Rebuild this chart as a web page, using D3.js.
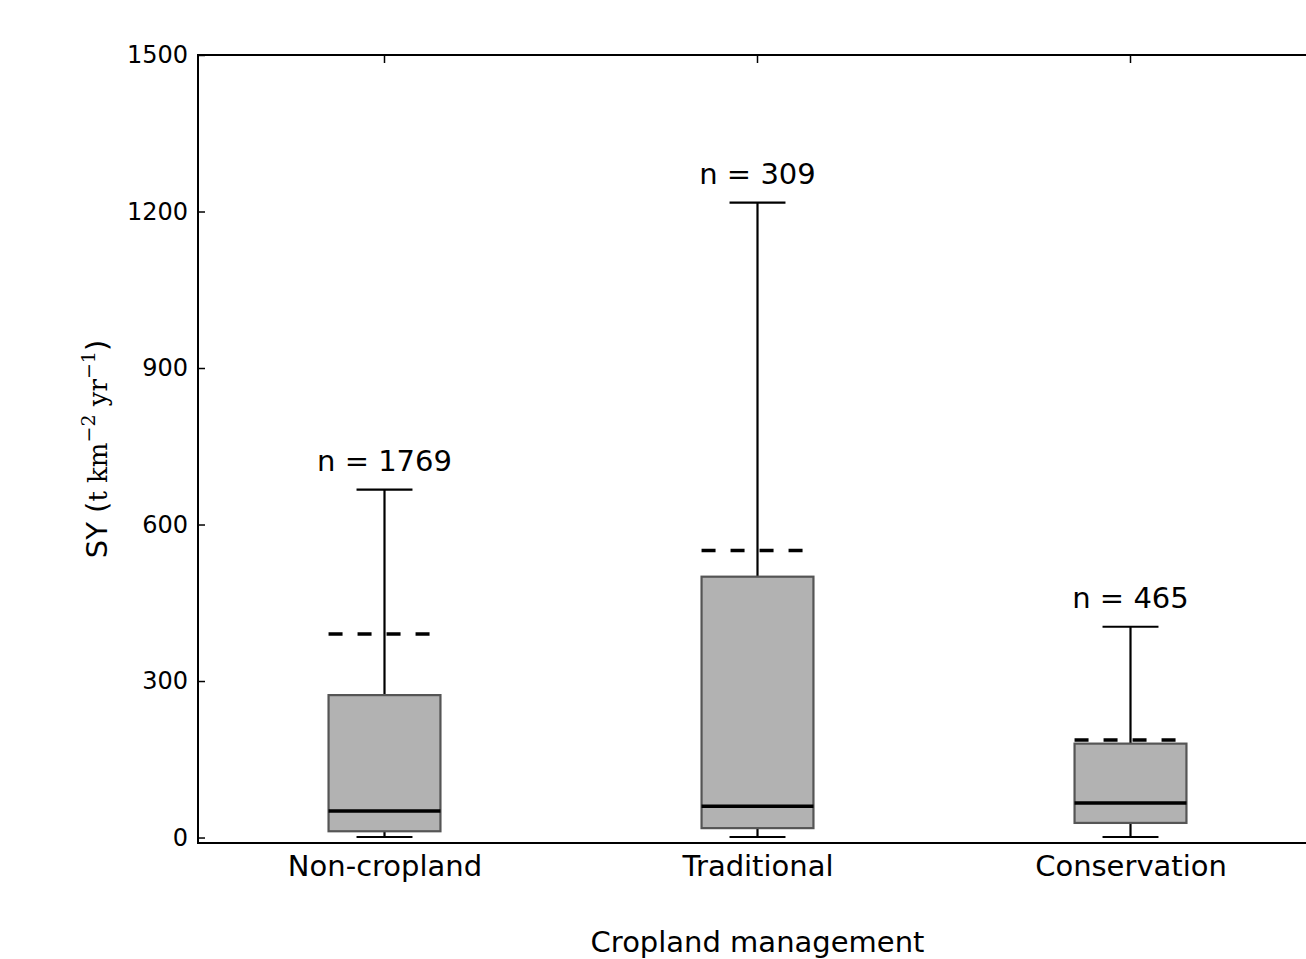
<!DOCTYPE html>
<html><head><meta charset="utf-8">
<script src="https://cdn.jsdelivr.net/npm/d3@7"></script>
<style>body{margin:0;background:#fff}svg{display:block}text{font-family:"DejaVu Sans",sans-serif}</style>
</head><body>
<svg id="c" width="1306" height="959"></svg>
<script>
const categories = ["Non-cropland", "Traditional", "Conservation"];
const counts = [1769, 309, 465];
const whiskerLow = [1, 1, 1];
const q1 = [12, 18, 28];
const median = [51, 60, 66];
const q3 = [273, 500, 180];
const whiskerHigh = [667, 1217, 404];
const means = [390, 550, 187];
const yTicks = [0, 300, 600, 900, 1200, 1500];

const svg = d3.select("#c");
const L = 198, R = 1317, T = 55, B = 843;
const x = d3.scaleLinear().domain([0.5, 3.5]).range([L, R]);
const y = d3.scaleLinear().domain([-10.5, 1500]).range([B, T]);
const step = x(2) - x(1);
const bw = step * 0.3, cw = bw / 2;

const g = svg.append("g");
categories.forEach((c, i) => {
  const cx = x(i + 1);
  g.append("line").attr("x1", cx).attr("x2", cx).attr("y1", y(q3[i])).attr("y2", y(whiskerHigh[i])).attr("stroke", "#000").attr("stroke-width", 2.2);
  g.append("line").attr("x1", cx).attr("x2", cx).attr("y1", y(q1[i])).attr("y2", y(whiskerLow[i])).attr("stroke", "#000").attr("stroke-width", 2.2);
  g.append("line").attr("x1", cx - cw / 2).attr("x2", cx + cw / 2).attr("y1", y(whiskerHigh[i])).attr("y2", y(whiskerHigh[i])).attr("stroke", "#000").attr("stroke-width", 2.2);
  g.append("line").attr("x1", cx - cw / 2).attr("x2", cx + cw / 2).attr("y1", y(whiskerLow[i])).attr("y2", y(whiskerLow[i])).attr("stroke", "#000").attr("stroke-width", 2.2);
  g.append("rect").attr("x", cx - bw / 2).attr("y", y(q3[i])).attr("width", bw).attr("height", y(q1[i]) - y(q3[i]))
    .attr("fill", "#b2b2b2").attr("stroke", "#555").attr("stroke-width", 2.2);
  g.append("line").attr("x1", cx - bw / 2).attr("x2", cx + bw / 2).attr("y1", y(median[i])).attr("y2", y(median[i])).attr("stroke", "#000").attr("stroke-width", 3.5);
  g.append("line").attr("x1", cx - bw / 2).attr("x2", cx + bw / 2).attr("y1", y(means[i])).attr("y2", y(means[i])).attr("stroke", "#000").attr("stroke-width", 3.5).attr("stroke-dasharray", "14,15");
  g.append("text").attr("x", cx).attr("y", y(whiskerHigh[i]) - 19).attr("text-anchor", "middle").attr("font-size", 29).text("n = " + counts[i]);
});

svg.append("rect").attr("x", L).attr("y", T).attr("width", R - L).attr("height", B - T).attr("fill", "none").attr("stroke", "#000").attr("stroke-width", 2);

const ya = svg.append("g").attr("transform", `translate(${L},0)`)
  .call(d3.axisLeft(y).tickValues(yTicks).tickSize(-7).tickPadding(10).tickFormat(d3.format("d")));
ya.select(".domain").remove();
ya.selectAll("line").attr("stroke-width", 1.5);
ya.selectAll("text").attr("font-size", 24).attr("font-family", "DejaVu Sans");

const xa = svg.append("g").attr("transform", `translate(0,${B})`)
  .call(d3.axisBottom(x).tickValues([1, 2, 3]).tickSize(0).tickPadding(0).tickFormat((d) => categories[d - 1]));
xa.select(".domain").remove();
xa.selectAll("text").attr("font-size", 29).attr("font-family", "DejaVu Sans").attr("y", 33).attr("dy", null);
svg.append("g").selectAll("line").data([1, 2, 3]).join("line")
  .attr("x1", d => x(d)).attr("x2", d => x(d)).attr("y1", T).attr("y2", T + 8).attr("stroke", "#000").attr("stroke-width", 1.5);

svg.append("text").attr("x", x(2)).attr("y", 952).attr("text-anchor", "middle").attr("font-size", 29).text("Cropland management");

const yl = svg.append("text").attr("transform", "translate(107,449) rotate(-90)").attr("text-anchor", "middle").attr("font-size", 29);
yl.append("tspan").text("SY (");
const ser = "DejaVu Serif";
yl.append("tspan").attr("font-family", ser).attr("font-size", 26).text("t km");
yl.append("tspan").attr("font-family", ser).attr("font-size", 19).attr("dy", -12).text("−2");
yl.append("tspan").attr("font-family", ser).attr("font-size", 26).attr("dy", 12).text(" yr");
yl.append("tspan").attr("font-family", ser).attr("font-size", 19).attr("dy", -12).text("−1");
yl.append("tspan").attr("dy", 12).text(")");
</script>
</body></html>
